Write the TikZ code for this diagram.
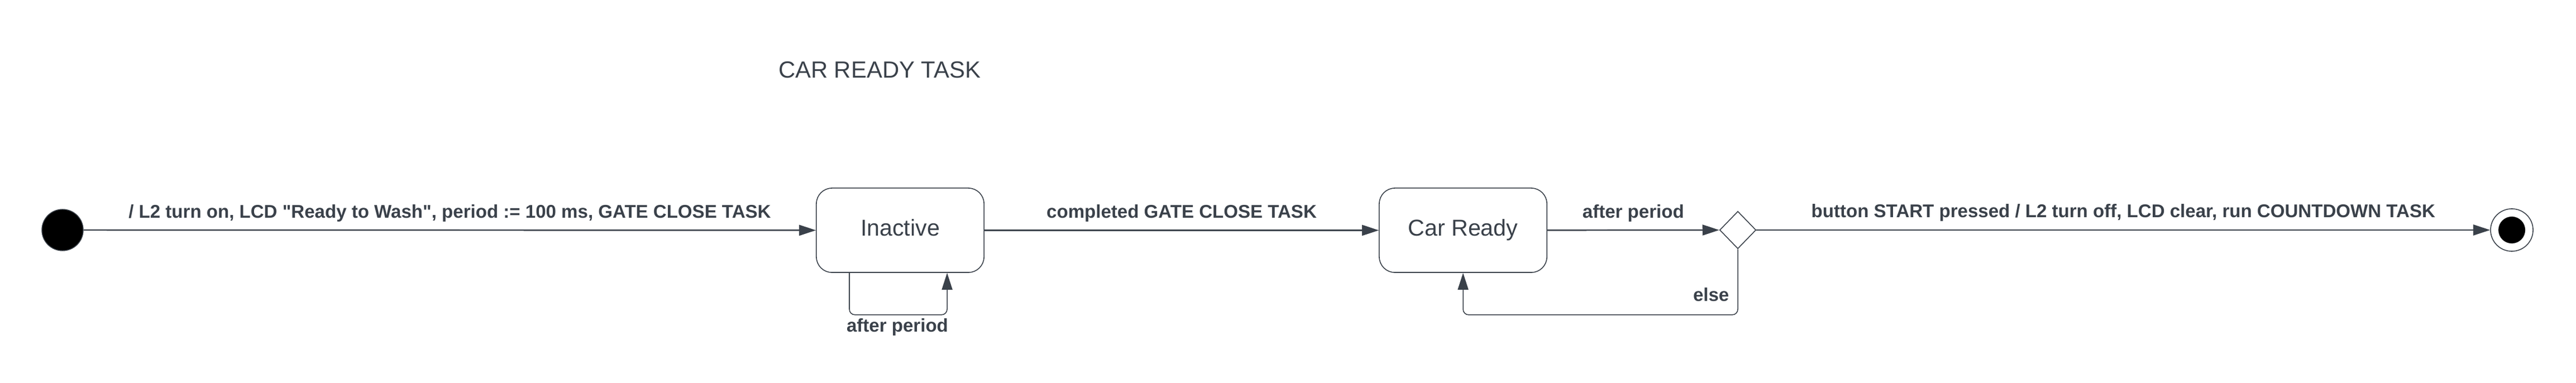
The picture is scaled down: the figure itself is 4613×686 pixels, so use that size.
\documentclass[tikz,border=0pt]{standalone}
\usepackage{fontspec}
\setmainfont{Liberation Sans}
\usepackage{tikz}
\usetikzlibrary{arrows.meta}
\usetikzlibrary{shapes.geometric}
\usetikzlibrary{positioning}
\definecolor{ink}{HTML}{3A414A}
\tikzset{arr/.style = {draw=ink, line width=0.7pt,
                       -{Triangle[length=3mm, width=1.9mm]}},
         state/.style = {draw=ink, line width=0.45pt, rectangle, rounded corners=2.8mm,
                         minimum width=30mm, minimum height=15.1mm,
                         text height=8.4pt, text depth=2.8pt,
                         text=ink, font=\fontsize{11.7}{14}\selectfont},
         lbl/.style = {text=ink, font=\fontsize{9.4}{11}\selectfont\bfseries, inner sep=0pt}}

\begin{document}
\begin{tikzpicture}[x=0.01cm, y=-0.01cm]
      \useasboundingbox (0, 0) rectangle (4613, 686);
      \node [text=ink, font=\fontsize{11.9}{14}\selectfont, anchor=base] (title) at (1575, 140) {CAR READY TASK};
      \node [circle, fill=black, draw=ink, minimum size=7.4mm, inner sep=0] (init) at (112, 412) {};
      \node [state] (inact) at (1612, 412.5) {Inactive};
      \node [state] (ready) at (2620, 412.5) {Car Ready};
      \node [diamond, draw=ink, line width=0.45pt, minimum width=6.5mm, minimum height=6.7mm, inner sep=0] (dec) at (3112, 412) {};
      \node [circle, draw=ink, line width=0.45pt, minimum size=7.6mm, inner sep=0] (fin) at (4498, 412) {};
      \node [circle, fill=black, minimum size=4.8mm, inner sep=0] (finin) at (fin) {};
      \draw [arr] (init) -- (inact) node [lbl, midway, anchor=base, yshift=2.2mm] {/ L2 turn on, LCD \textquotedbl Ready to Wash\textquotedbl, period := 100 ms, GATE CLOSE TASK};
      \draw [arr] (inact) -- (ready) node [lbl, midway, anchor=base, yshift=2.2mm] {completed GATE CLOSE TASK};
      \draw [arr] (ready) -- (dec) node [lbl, midway, anchor=base, yshift=2.2mm] {after period};
      \draw [arr] (dec) -- (fin) node [lbl, midway, anchor=base, yshift=2.2mm] {button START pressed / L2 turn off, LCD clear, run COUNTDOWN TASK};
      \draw [arr, line width=0.45pt, rounded corners=1mm] ([xshift=-9.1mm]inact.south) -- ++(0, 75) -| ([xshift=8.4mm]inact.south);
      \node [lbl, anchor=base] (selflbl) at (1607, 595) {after period};
      \draw [arr, line width=0.45pt, rounded corners=1mm] (dec.south) |- ([yshift=-7.5mm]ready.south) -- (ready.south);
      \node [lbl, anchor=base east] (elselbl) at (3097, 540) {else};
    \end{tikzpicture}
\end{document}
